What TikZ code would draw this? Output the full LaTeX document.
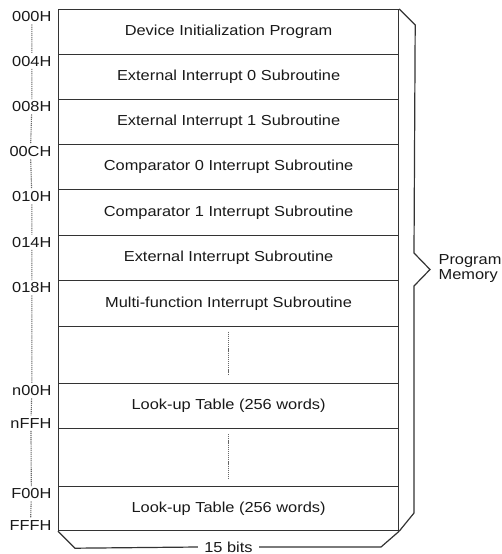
\documentclass[tikz,border=0pt]{standalone}
\usepackage{fontspec}
\setmainfont{Liberation Sans}[FakeStretch=1.13]
\usepackage{tikz}
\usetikzlibrary{positioning}

\begin{document}
\begin{tikzpicture}[x=1pt, y=-1pt, line width=1.2pt, draw=black!80,
	every node/.style={font=\fontsize{14.5}{17}\selectfont, text=black!90},
	row/.style={draw, rectangle, anchor=north west, minimum width=340pt, inner sep=0pt},
	addr/.style={anchor=north east, inner sep=2pt},
	addrb/.style={anchor=base east, inner sep=2pt},
	dots/.style={draw=black!60, line width=1.1pt, dash pattern=on 1.2pt off 0.9pt}]
	\useasboundingbox (0,0) rectangle (501,554);

	% memory rows
	\node[row, minimum height=44.5pt] (r0) at (58, 9)     {Device Initialization Program};
	\node[row, minimum height=45.5pt] (r1) at (58, 53.5)  {External Interrupt 0 Subroutine};
	\node[row, minimum height=45pt]   (r2) at (58, 99)    {External Interrupt 1 Subroutine};
	\node[row, minimum height=45pt]   (r3) at (58, 144)   {Comparator 0 Interrupt Subroutine};
	\node[row, minimum height=45.5pt] (r4) at (58, 189)   {Comparator 1 Interrupt Subroutine};
	\node[row, minimum height=45.5pt] (r5) at (58, 234.5) {External Interrupt Subroutine};
	\node[row, minimum height=45.5pt] (r6) at (58, 280)   {Multi-function Interrupt Subroutine};
	\node[row, minimum height=57.5pt] (r7) at (58, 325.5) {};
	\node[row, minimum height=45pt]   (r8) at (58, 383)   {Look-up Table (256 words)};
	\node[row, minimum height=58pt]   (r9) at (58, 428)   {};
	\node[row, minimum height=44pt]   (r10) at (58, 486)  {Look-up Table (256 words)};

	% addresses
	\node[addr] (a0) at (r0.north west) [xshift=-4pt] {000H};
	\node[addr] (a1) at (r1.north west) [xshift=-4pt] {004H};
	\node[addr] (a2) at (r2.north west) [xshift=-4pt] {008H};
	\node[addr] (a3) at (r3.north west) [xshift=-4pt] {00CH};
	\node[addr] (a4) at (r4.north west) [xshift=-4pt] {010H};
	\node[addr] (a5) at (r5.north west) [xshift=-4pt] {014H};
	\node[addr] (a6) at (r6.north west) [xshift=-4pt] {018H};
	\node[addr] (a8) at (r8.north west) [xshift=-4pt] {n00H};
	\node[addrb] (a8e) at (r8.south west) [xshift=-4pt, yshift=1pt] {nFFH};
	\node[addr] (a10) at (r10.north west) [xshift=-4pt] {F00H};
	\node[addrb] (a10e) at (r10.south west) [xshift=-4pt, yshift=1pt] {FFFH};

	\path[dots] (a0) -- (a1) (a1) -- (a2) (a2) -- (a3) (a3) -- (a4) (a4) -- (a5)
		(a5) -- (a6) (a6) -- (a8) (a8) -- (a8e) (a8e) -- (a10) (a10) -- (a10e);
	\path[dots] ([yshift=-6pt]r7.north) -- ([yshift=9pt]r7.south);
	\path[dots] ([yshift=-6pt]r9.north) -- ([yshift=9pt]r9.south);

	% side and bottom brackets
	\node[anchor=west, align=left, inner sep=0pt] (pm) at (438, 269) {Program\\[-2pt]Memory};
	\node[inner sep=6pt] (bits) at (228.5, 547) {15 bits};
	\draw (r0.north east) -- ++(16,16) -- (414,253) -- (430,269.5) -- (414,286)
		-- (414,513) -- (r10.south east);
	\draw (r10.south west) -- ++(17,17) -- (bits.west);
	\draw (bits.east) -- (381,547) -- (r10.south east);
\end{tikzpicture}
\end{document}
